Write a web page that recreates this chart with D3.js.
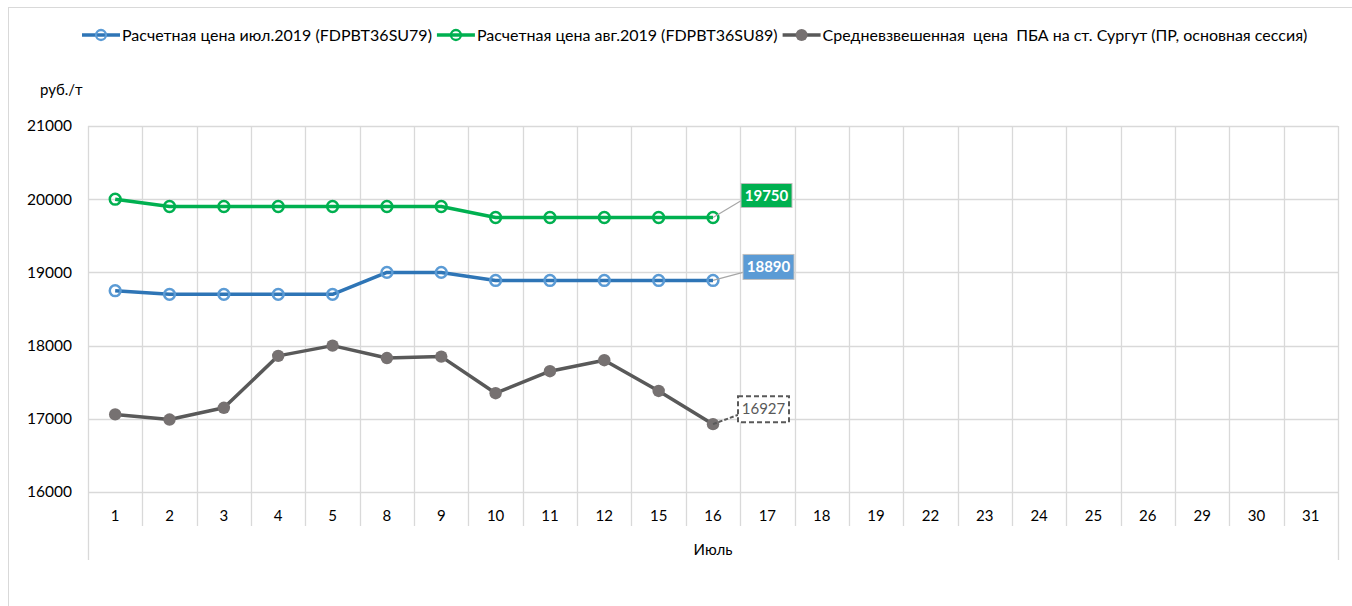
<!DOCTYPE html>
<html>
<head>
<meta charset="utf-8">
<script src="https://cdn.jsdelivr.net/npm/d3@7"></script>
<style>
  html, body { margin: 0; padding: 0; background: #fff; }
  svg { display: block; font-family: Lato, "Open Sans", sans-serif; }
  text { white-space: pre; }
</style>
</head>
<body>
<svg id="chart" width="1352" height="606"></svg>
<script>
// Trading days of July 2019
const days = ["1","2","3","4","5","8","9","10","11","12","15","16","17","18","19","22","23","24","25","26","29","30","31"];
const monthLabel = "Июль";
const yTicks = [16000, 17000, 18000, 19000, 20000, 21000];
const yUnit = "руб./т";

// Settlement price, July 2019 futures (FDPBT36SU79)
const julPrice = [18750, 18700, 18700, 18700, 18700, 19000, 19000, 18890, 18890, 18890, 18890, 18890];
// Settlement price, August 2019 futures (FDPBT36SU89)
const augPrice = [20000, 19900, 19900, 19900, 19900, 19900, 19900, 19750, 19750, 19750, 19750, 19750];
// Weighted average exchange price at Surgut station
const spotPrice = [17060, 16990, 17150, 17860, 18000, 17830, 17850, 17350, 17650, 17800, 17380, 16927];

const seriesNames = [
  "Расчетная цена июл.2019 (FDPBT36SU79)",
  "Расчетная цена авг.2019 (FDPBT36SU89)",
  "Средневзвешенная  цена  ПБА на ст. Сургут (ПР, основная сессия)"
];

const svg = d3.select("#chart");
const margin = { left: 88, right: 1338, top: 126, bottom: 492 };

// outer chart frame
svg.append("rect").attr("x", 8.5).attr("y", 7.5).attr("width", 1360).attr("height", 620)
  .attr("fill", "none").attr("stroke", "#d9d9d9").attr("stroke-width", 1);

const x = d3.scaleBand().domain(days).range([margin.left, margin.right]).paddingInner(0).paddingOuter(0);
const y = d3.scaleLinear().domain([16000, 21000]).range([margin.bottom, margin.top]);

const grid = svg.append("g");
// horizontal gridlines
grid.selectAll("line.h").data(yTicks).join("line")
  .attr("x1", margin.left).attr("x2", margin.right)
  .attr("y1", d => Math.round(y(d)) + 0.5).attr("y2", d => Math.round(y(d)) + 0.5)
  .attr("stroke", "#d9d9d9").attr("stroke-width", 1.3);

// vertical category boundaries, extending through the tick label row
const bounds = days.map(d => x(d)).concat([margin.right]);
grid.selectAll("line.v").data(bounds).join("line")
  .attr("x1", d => Math.round(d) + 0.5).attr("x2", d => Math.round(d) + 0.5)
  .attr("y1", margin.top)
  .attr("y2", (d, i) => (i === 0 || i === bounds.length - 1) ? 560 : 526)
  .attr("stroke", "#d9d9d9").attr("stroke-width", 1.3);

// y axis labels
const yAxis = d3.axisLeft(y).tickValues(yTicks).tickSize(0).tickPadding(16).tickFormat(d3.format("d"));
const ya = svg.append("g").attr("transform", `translate(${margin.left},0)`).call(yAxis);
ya.select(".domain").remove();
ya.selectAll("text").attr("font-size", 15.5).attr("fill", "#000").attr("font-family", "Lato, sans-serif");

svg.append("text").attr("x", 40).attr("y", 95).attr("font-size", 15).attr("fill", "#000").text(yUnit);

// x axis category labels
const xAxis = d3.axisBottom(x).tickSize(0).tickPadding(18);
const xa = svg.append("g").attr("transform", `translate(0,${margin.bottom})`).call(xAxis);
xa.select(".domain").remove();
xa.selectAll("text").attr("font-size", 15).attr("fill", "#000").attr("font-family", "Lato, sans-serif");

svg.append("text").attr("x", (margin.left + margin.right) / 2).attr("y", 555)
  .attr("text-anchor", "middle").attr("font-size", 15).attr("fill", "#000").text(monthLabel);

const cx = i => x(days[i]) + x.bandwidth() / 2;
const line = d3.line().x((d, i) => cx(i)).y(d => y(d));

const series = [
  { data: julPrice, line: "#2e75b6", marker: "#5b9bd5", hollow: true },
  { data: augPrice, line: "#00b050", marker: "#00b050", hollow: true },
  { data: spotPrice, line: "#595959", marker: "#767171", hollow: false }
];

series.forEach(s => {
  const g = svg.append("g");
  g.append("path").datum(s.data).attr("d", line)
    .attr("fill", "none").attr("stroke", s.line).attr("stroke-width", 3.5)
    .attr("stroke-linejoin", "round");
  g.selectAll("circle").data(s.data).join("circle")
    .attr("cx", (d, i) => cx(i)).attr("cy", d => y(d))
    .attr("r", s.hollow ? 5.4 : 6.2)
    .attr("fill", s.hollow ? "none" : s.marker)
    .attr("stroke", s.marker).attr("stroke-width", s.hollow ? 2.5 : 0);
});

// value callouts on the last point of each series
const callouts = [
  { s: 1, dx: 28, dy: -34, w: 51, h: 24, fill: "#00b050", stroke: "#00b050", text: "#fff", bold: true, dash: null },
  { s: 0, dx: 30, dy: -26, w: 51, h: 25, fill: "#5b9bd5", stroke: "#5b9bd5", text: "#fff", bold: true, dash: null },
  { s: 2, dx: 25, dy: -28, w: 51, h: 26, fill: "#fff", stroke: "#595959", text: "#595959", bold: false, dash: "5,3" }
];
callouts.forEach(c => {
  const data = series[c.s].data;
  const i = data.length - 1;
  const px = cx(i), py = y(data[i]);
  const bx = px + c.dx, by = py + c.dy;
  svg.append("line").attr("x1", px).attr("y1", py)
    .attr("x2", bx).attr("y2", by + c.h * 0.72)
    .attr("stroke", c.dash ? "#595959" : "#a6a6a6").attr("stroke-width", c.dash ? 2 : 1.2)
    .attr("stroke-dasharray", c.dash ? "4,2" : null);
  svg.append("rect").attr("x", bx).attr("y", by).attr("width", c.w).attr("height", c.h)
    .attr("fill", c.fill).attr("stroke", c.dash ? c.stroke : "#bfbfbf")
    .attr("stroke-width", c.dash ? 2 : 1).attr("stroke-dasharray", c.dash);
  svg.append("text").attr("x", bx + c.w / 2).attr("y", by + c.h / 2 + 5)
    .attr("text-anchor", "middle").attr("font-size", 15)
    .attr("font-weight", c.bold ? "bold" : "normal").attr("fill", c.text)
    .text(d3.format("d")(data[i]));
});

// legend
const legend = svg.append("g");
let lx = 82;
series.forEach((s, k) => {
  const g = legend.append("g");
  g.append("line").attr("x1", lx).attr("x2", lx + 38).attr("y1", 35).attr("y2", 35)
    .attr("stroke", s.line).attr("stroke-width", 3.5);
  g.append("circle").attr("cx", lx + 19).attr("cy", 35).attr("r", s.hollow ? 5 : 6)
    .attr("fill", s.hollow ? "none" : s.marker)
    .attr("stroke", s.marker).attr("stroke-width", s.hollow ? 2.3 : 0);
  const t = g.append("text").attr("x", lx + 40).attr("y", 40.5).attr("font-size", 16)
    .attr("fill", "#000").text(seriesNames[k]);
  lx += 40 + t.node().getComputedTextLength() + 5;
});
</script>
</body>
</html>
